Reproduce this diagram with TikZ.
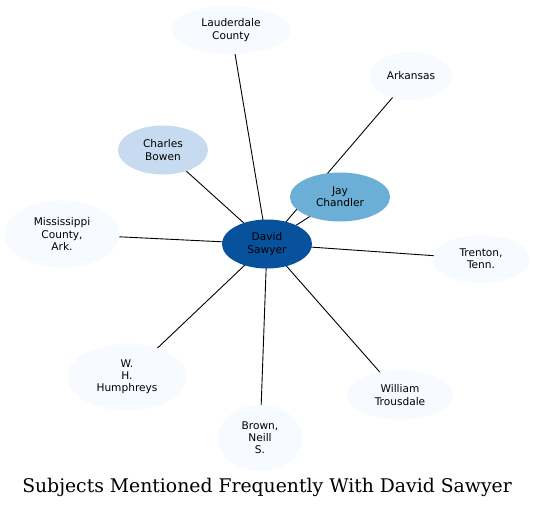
\documentclass[tikz,border=0pt]{standalone}
\usepackage{fontspec}
\setmainfont{DejaVu Sans}
\newfontfamily\titlefont{DejaVu Serif}
\usetikzlibrary{shapes.geometric}
\definecolor{cdark}{HTML}{08519C}
\definecolor{cmid}{HTML}{6BAED6}
\definecolor{clight}{HTML}{C6DBEF}
\definecolor{cpale}{HTML}{F7FBFF}
\pgfdeclarelayer{bg}
\pgfsetlayers{bg,main}
\tikzset{
  ent/.style={ellipse, draw=none, inner sep=0pt, align=center,
    font=\fontsize{10.6}{12.2}\selectfont, text=black},
  edge/.style={draw=black, line width=0.9pt},
}
\begin{document}
\begin{tikzpicture}[x=1pt,y=-1pt]
\begin{pgfonlayer}{bg}
\useasboundingbox[fill=white] (0,0) rectangle (534,508);
\end{pgfonlayer}
\node[ent, fill=cpale, minimum width=119pt, minimum height=48pt] (laud) at (231,30) {Lauderdale\\County};
\node[ent, fill=cpale, minimum width=82pt, minimum height=48pt] (ark) at (411,76) {Arkansas};
\node[ent, fill=clight, minimum width=90pt, minimum height=49pt] (bowen) at (163,150) {Charles\\Bowen};
\node[ent, fill=cmid, minimum width=100pt, minimum height=49pt] (jay) at (340,197) {Jay\\Chandler};
\node[ent, fill=cpale, minimum width=115pt, minimum height=67pt] (miss) at (62,234) {Mississippi\\County,\\Ark.};
\node[ent, fill=cdark, minimum width=90pt, minimum height=49pt] (david) at (267,244) {David\\Sawyer};
\node[ent, fill=cpale, minimum width=96pt, minimum height=48pt] (tren) at (481,259) {Trenton,\\Tenn.};
\node[ent, fill=cpale, minimum width=119pt, minimum height=67pt] (hum) at (127,377) {W.\\H.\\Humphreys};
\node[ent, fill=cpale, minimum width=106pt, minimum height=49pt] (trous) at (400,395) {William\\Trousdale};
\node[ent, fill=cpale, minimum width=84pt, minimum height=66pt] (brown) at (260,438) {Brown,\\Neill\\S.};
\node[font=\titlefont\fontsize{18.8}{22}\selectfont] (title) at (267,487) {Subjects Mentioned Frequently With David Sawyer};
\begin{pgfonlayer}{bg}
\draw[edge] (david.center) -- (laud.center);
\draw[edge] (david.center) -- (ark.center);
\draw[edge] (david.center) -- (bowen.center);
\draw[edge] (david.center) -- (jay.center);
\draw[edge] (david.center) -- (miss.center);
\draw[edge] (david.center) -- (tren.center);
\draw[edge] (david.center) -- (hum.center);
\draw[edge] (david.center) -- (trous.center);
\draw[edge] (david.center) -- (brown.center);
\end{pgfonlayer}
\end{tikzpicture}
\end{document}
